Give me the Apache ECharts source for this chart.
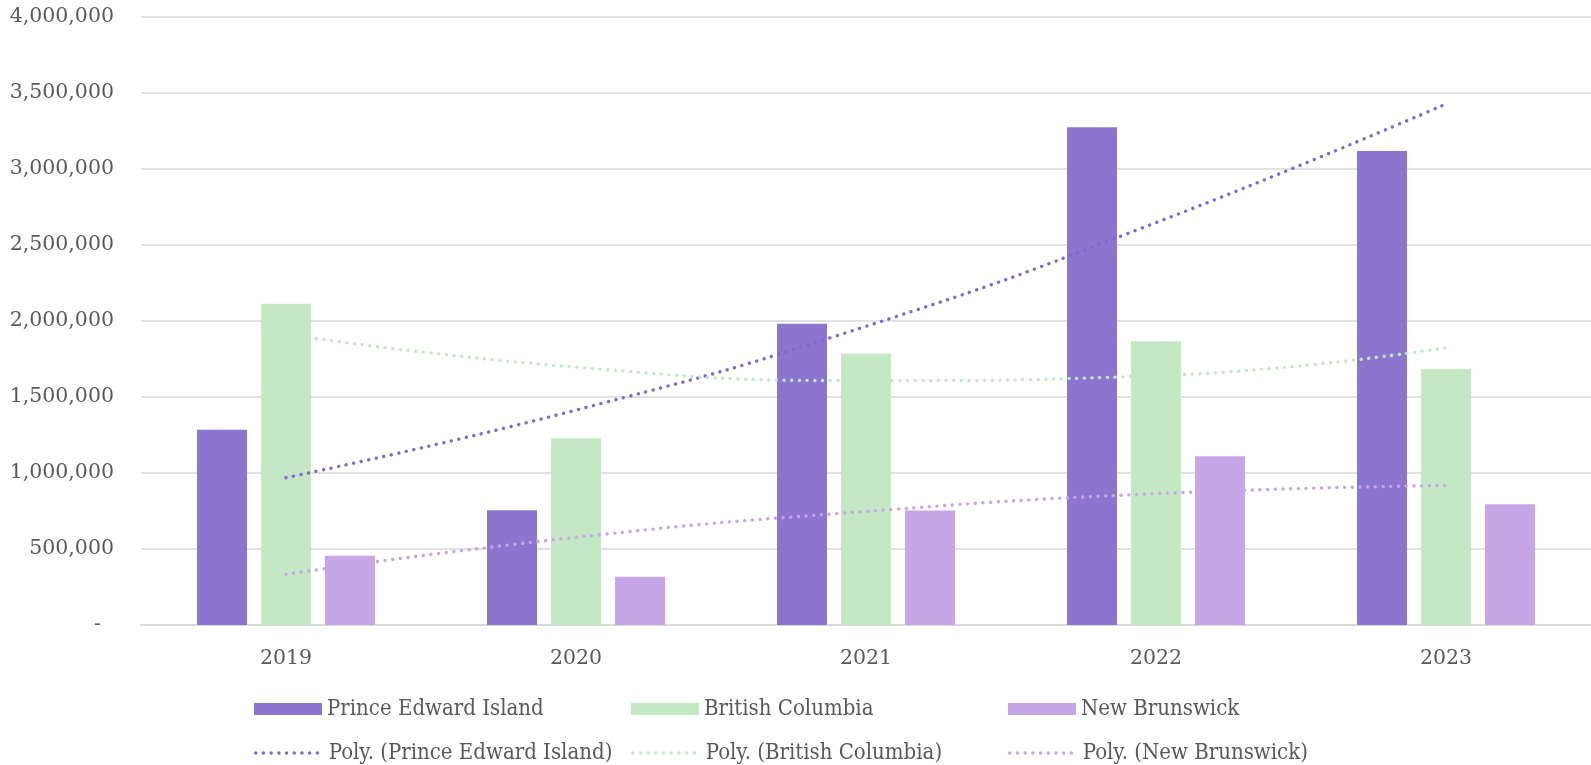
<!DOCTYPE html>
<html>
<head>
<meta charset="utf-8">
<script src="https://cdn.jsdelivr.net/npm/echarts@6/dist/echarts.min.js"></script>
<style>
html,body{margin:0;padding:0;background:#fff;}
#chart{width:1591px;height:765px;}
</style>
</head>
<body>
<div id="chart"></div>
<script>
const categories = ['2019', '2020', '2021', '2022', '2023'];
const peiValues = [1284000, 755000, 1982000, 3275000, 3118000];
const bcValues = [2113000, 1229000, 1784000, 1866000, 1685000];
const nbValues = [455000, 317000, 753000, 1111000, 795000];
// trendline values at each category
const peiTrend = [969000, 1414000, 1965000, 2647000, 3428000];
const bcTrend = [1911000, 1696000, 1608000, 1640000, 1824000];
const nbTrend = [334000, 577000, 747000, 864000, 918000];
const seriesNames = ['Prince Edward Island', 'British Columbia', 'New Brunswick'];
const trendNames = ['Poly. (Prince Edward Island)', 'Poly. (British Columbia)', 'Poly. (New Brunswick)'];

const barColors = ['#8c75ce', '#c4e8c4', '#c6a6e7'];
const trendColors = ['#8266d2', '#c4e8c4', '#c6a6e7'];
const textColor = '#595959';
const axisFont = 'DejaVu Serif';
const legendFont = 'DejaVu Serif Condensed';
const dotPattern = [0.1, 7.6];

const chart = echarts.init(document.getElementById('chart'));

function fmt(v) {
  if (v === 0) return '-  ';
  return v.toLocaleString('en-US');
}

const legendLefts = [249, 626, 1003];
const legends = [];
for (let i = 0; i < 3; i++) {
  legends.push({
    data: [seriesNames[i]], left: legendLefts[i], top: 693,
    itemWidth: 68, itemHeight: 12, icon: 'rect', itemGap: 0,
    textStyle: {fontFamily: legendFont, fontSize: 22, color: textColor}
  });
  legends.push({
    data: [trendNames[i]], left: legendLefts[i], top: 737,
    itemWidth: 68, itemHeight: 12, itemGap: 0,
    itemStyle: {opacity: 0},
    lineStyle: {color: trendColors[i], width: 3.4, type: dotPattern, cap: 'round'},
    textStyle: {fontFamily: legendFont, fontSize: 22, color: textColor}
  });
}

const barData = [peiValues, bcValues, nbValues];
const trendData = [peiTrend, bcTrend, nbTrend];
const series = [];
for (let i = 0; i < 3; i++) {
  series.push({
    name: seriesNames[i], type: 'bar', data: barData[i],
    barWidth: 50, barGap: '28%',
    itemStyle: {color: barColors[i]},
    z: 2
  });
}
for (let i = 0; i < 3; i++) {
  series.push({
    name: trendNames[i], type: 'line', data: trendData[i],
    smooth: true, symbol: 'none',
    lineStyle: {color: trendColors[i], width: 3.4, type: dotPattern, cap: 'round'},
    itemStyle: {color: trendColors[i]},
    z: 3
  });
}

chart.setOption({
  animation: false,
  backgroundColor: '#ffffff',
  grid: {left: 141, right: 0, top: 17, bottom: 140},
  legend: legends,
  xAxis: {
    type: 'category', data: categories,
    axisLine: {lineStyle: {color: '#d9d9d9', width: 2}},
    axisTick: {show: false},
    axisLabel: {fontFamily: axisFont, fontSize: 20.5, color: textColor, margin: 23}
  },
  yAxis: {
    type: 'value', min: 0, max: 4000000, interval: 500000,
    axisLine: {show: false}, axisTick: {show: false},
    splitLine: {lineStyle: {color: '#d9d9d9', width: 1.5}},
    axisLabel: {fontFamily: axisFont, fontSize: 20.5, color: textColor, margin: 27, formatter: fmt}
  },
  series: series
});
</script>
</body>
</html>
